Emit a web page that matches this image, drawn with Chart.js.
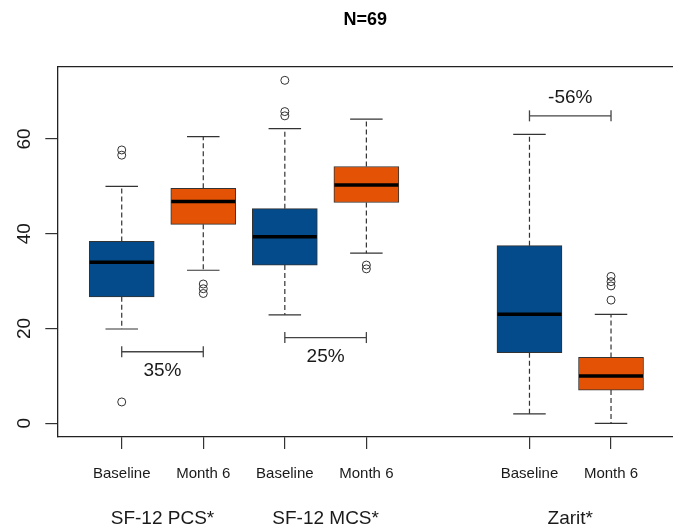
<!DOCTYPE html>
<html>
<head>
<meta charset="utf-8">
<script src="https://cdn.jsdelivr.net/npm/chart.js@4.4.1/dist/chart.umd.min.js"></script>
<style>
  html, body { margin: 0; padding: 0; background: #ffffff; }
  #wrap { width: 673px; height: 528px; }
</style>
</head>
<body>
<div id="wrap"><canvas id="c" width="673" height="528"></canvas></div>
<script>
// ---- data ----
const xPositions   = [1, 2, 3, 4, 6, 7];
const tickLabels   = ['Baseline', 'Month 6', 'Baseline', 'Month 6', 'Baseline', 'Month 6'];
const groupLabels  = ['SF-12 PCS*', 'SF-12 MCS*', 'Zarit*'];
const groupCenters = [1.5, 3.5, 6.5];
const lowerWhisker = [19.9, 32.3, 22.9, 35.9, 2.0, 0.0];
const q1           = [26.7, 42.0, 33.4, 46.6, 14.9, 7.0];
const median       = [34.0, 46.8, 39.4, 50.3, 23.0, 10.0];
const q3           = [38.4, 49.6, 45.3, 54.2, 37.5, 13.9];
const upperWhisker = [50.0, 60.5, 62.2, 64.2, 61.0, 23.0];
const outliers     = [[57.7, 56.6, 4.5], [29.4, 28.4, 27.4], [72.4, 65.8, 64.9], [33.4, 32.6], [], [31.0, 29.9, 29.0, 26.0]];
const yTicks       = [0, 20, 40, 60];
const bracketFrom  = [1, 3, 6];
const bracketTo    = [2, 4, 7];
const bracketLevel = [15.1, 18.1, 64.9];
const bracketText  = ['35%', '25%', '-56%'];
const bracketTextY = [11.1, 14.1, 68.7];
const titleText    = 'N=69';

const BLUE = '#034B8B', ORANGE = '#E35205';
const boxColors = xPositions.map((p, i) => (i % 2 === 0 ? BLUE : ORANGE));
const FONT = "'Liberation Sans', Arial, Helvetica, sans-serif";

// y range like R (4% extension of data range)
const allVals = lowerWhisker.concat(upperWhisker, ...outliers);
const dMin = Math.min(...allVals), dMax = Math.max(...allVals);
const yPad = (dMax - dMin) * 0.04;

const outlierPoints = [];
outliers.forEach((arr, i) => arr.forEach(v => outlierPoints.push({ x: xPositions[i], y: v })));

const extras = {
  id: 'extras',
  afterDatasetsDraw(chart) {
    const { ctx, chartArea, scales } = chart;
    const xs = scales.x, ys = scales.y;
    const meta = chart.getDatasetMeta(0);
    ctx.save();
    const seg = (x1, y1, x2, y2) => { ctx.beginPath(); ctx.moveTo(x1, y1); ctx.lineTo(x2, y2); ctx.stroke(); };

    xPositions.forEach((p, i) => {
      const px = xs.getPixelForValue(p);
      const w = meta.data[i].width;
      // whiskers
      ctx.strokeStyle = '#333';
      ctx.lineWidth = 1.2;
      ctx.setLineDash([5, 3]);
      seg(px, ys.getPixelForValue(q3[i]), px, ys.getPixelForValue(upperWhisker[i]));
      seg(px, ys.getPixelForValue(q1[i]), px, ys.getPixelForValue(lowerWhisker[i]));
      ctx.setLineDash([]);
      // staples
      seg(px - w / 4, ys.getPixelForValue(upperWhisker[i]), px + w / 4, ys.getPixelForValue(upperWhisker[i]));
      seg(px - w / 4, ys.getPixelForValue(lowerWhisker[i]), px + w / 4, ys.getPixelForValue(lowerWhisker[i]));
      // median
      ctx.strokeStyle = '#000';
      ctx.lineWidth = 3.5;
      seg(px - w / 2 + 0.5, ys.getPixelForValue(median[i]), px + w / 2 - 0.5, ys.getPixelForValue(median[i]));
    });

    // brackets
    ctx.strokeStyle = '#444';
    ctx.lineWidth = 1.3;
    ctx.fillStyle = '#1a1a1a';
    ctx.font = '19px ' + FONT;
    ctx.textAlign = 'center';
    ctx.textBaseline = 'middle';
    bracketText.forEach((t, i) => {
      const xa = xs.getPixelForValue(bracketFrom[i]);
      const xb = xs.getPixelForValue(bracketTo[i]);
      const yy = ys.getPixelForValue(bracketLevel[i]);
      seg(xa, yy, xb, yy);
      seg(xa, yy - 5.5, xa, yy + 5.5);
      seg(xb, yy - 5.5, xb, yy + 5.5);
      ctx.fillText(t, (xa + xb) / 2, ys.getPixelForValue(bracketTextY[i]));
    });

    // rotated y tick labels
    ctx.font = '19px ' + FONT;
    yTicks.forEach(v => {
      ctx.save();
      ctx.translate(25, ys.getPixelForValue(v));
      ctx.rotate(-Math.PI / 2);
      ctx.fillText(String(v), 0, 0);
      ctx.restore();
    });

    // group labels
    ctx.font = '19px ' + FONT;
    groupLabels.forEach((g, i) => {
      ctx.fillText(g, xs.getPixelForValue(groupCenters[i]), 519);
    });

    // top frame line
    ctx.strokeStyle = '#222';
    ctx.lineWidth = 1.3;
    seg(chartArea.left, chartArea.top, chartArea.right, chartArea.top);
    ctx.restore();
  }
};

new Chart(document.getElementById('c'), {
  type: 'bar',
  data: {
    datasets: [
      {
        type: 'bar',
        data: xPositions.map((p, i) => ({ x: p, y: [q1[i], q3[i]] })),
        backgroundColor: boxColors,
        borderColor: '#333',
        borderWidth: 1,
        borderSkipped: false,
        barThickness: 65,
        grouped: false,
        order: 2
      },
      {
        type: 'scatter',
        data: outlierPoints,
        pointStyle: 'circle',
        pointRadius: 4,
        pointBorderWidth: 1,
        pointBorderColor: '#333',
        pointBackgroundColor: 'rgba(0,0,0,0)',
        showLine: false,
        order: 1
      }
    ]
  },
  options: {
    responsive: false,
    animation: false,
    layout: { autoPadding: false, padding: { left: 0, right: 0, top: 0, bottom: 0 } },
    plugins: {
      legend: { display: false },
      tooltip: { enabled: false },
      title: {
        display: true,
        text: titleText,
        fullSize: false,
        color: '#000',
        font: { family: FONT, size: 18, weight: 'bold' },
        padding: { top: 9, bottom: 36 }
      }
    },
    scales: {
      x: {
        type: 'linear',
        min: 0.21,
        max: 7.76,
        offset: false,
        afterBuildTicks: s => { s.ticks = xPositions.map(v => ({ value: v })); },
        afterFit: s => { s.height = 91; s.paddingLeft = 0; s.paddingRight = 0; },
        ticks: {
          autoSkip: false,
          maxRotation: 0,
          minRotation: 0,
          padding: 16,
          color: '#1a1a1a',
          font: { family: FONT, size: 15 },
          callback: v => tickLabels[xPositions.indexOf(v)]
        },
        grid: { offset: false, drawOnChartArea: false, drawTicks: true, tickLength: 12, color: '#333', lineWidth: 1.2 },
        border: { display: true, color: '#222', width: 1.3 }
      },
      y: {
        type: 'linear',
        min: dMin - yPad,
        max: dMax + yPad,
        afterBuildTicks: s => { s.ticks = yTicks.map(v => ({ value: v })); },
        afterFit: s => { s.width = 57.3; s.paddingTop = 0; s.paddingBottom = 0; },
        ticks: { display: false },
        grid: { drawOnChartArea: false, drawTicks: true, tickLength: 12, color: '#333', lineWidth: 1.2 },
        border: { display: true, color: '#222', width: 1.3 }
      }
    }
  },
  plugins: [extras]
});
</script>
</body>
</html>
